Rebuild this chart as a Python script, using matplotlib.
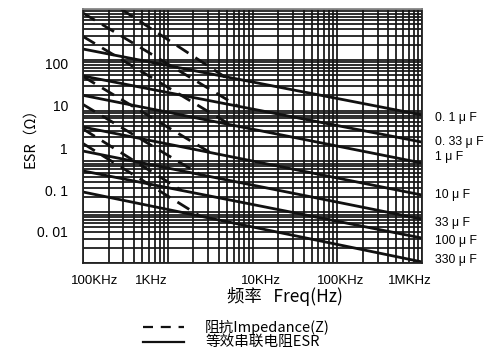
import matplotlib
matplotlib.use("Agg")
import matplotlib.pyplot as plt
from matplotlib.lines import Line2D
from matplotlib.transforms import offset_copy, blended_transform_factory

plt.rcParams['font.family'] = ['Noto Sans CJK SC', 'DejaVu Sans']

# ---- data ----
caps = ["0. 1 μ F", "0. 33 μ F", "1 μ F", "10 μ F", "33 μ F", "100 μ F", "330 μ F"]

# ESR lines: value at 100Hz and at 1MHz
esr_freq = [1e2, 1e6]
esr_01 = [163, 8.2]
esr_033 = [48, 2.4]
esr_1 = [20, 0.93]
esr_10 = [4.75, 0.218]
esr_33 = [1.6, 0.073]
esr_100 = [0.65, 0.031]
esr_330 = [0.25, 0.0105]

# impedance (dashed) lines: start and end points (freq, ohm)
z_freq_01 = [281, 4737]
z_01 = [1000, 45.8]
z_freq_033 = [100, 6745]
z_033 = [834, 12.2]
z_freq_1 = [100, 5427]
z_1 = [288, 5.3]
z_freq_10 = [100, 3152]
z_10 = [46.9, 1.50]
z_freq_33 = [100, 2402]
z_33 = [13.2, 0.552]
z_freq_100 = [100, 1432]
z_100 = [4.35, 0.273]
z_freq_330 = [100, 2402]
z_330 = [2.25, 0.084]

x_ticks = [1e2, 1e3, 1e4, 1e5, 1e6]
x_labels = ["100KHz", "1KHz", "10KHz", "100KHz", "1MKHz"]
y_ticks = [100, 10, 1, 0.1, 0.01]
y_labels = ["100", "10", "1", "0. 1", "0. 01"]

esr_all = [esr_01, esr_033, esr_1, esr_10, esr_33, esr_100, esr_330]
z_all = [(z_freq_01, z_01), (z_freq_033, z_033), (z_freq_1, z_1),
         (z_freq_10, z_10), (z_freq_33, z_33), (z_freq_100, z_100),
         (z_freq_330, z_330)]

# nudges (pixels) so the labels sit where the scan puts them
x_nudge = [12, -16, 8, 3, -12]
y_nudge = [-5, 4, 11, 20, 30]
cap_label_y = [118, 142, 157, 195, 223, 241, 260]

W, H = 489, 349
fig = plt.figure(figsize=(W / 100, H / 100), dpi=100)
ax = fig.add_axes([83 / W, 1 - 263 / H, 339 / W, 254 / H])
ax.set_xscale("log")
ax.set_yscale("log")
ax.set_xlim(1e2, 1e6)
ax.set_ylim(0.01, 1000)

ax.grid(which="both", color="#151515", lw=1.25)
ax.tick_params(which="both", length=0, labelbottom=False, labelleft=False)
for s in ax.spines.values():
    s.set_color("#222222")
    s.set_linewidth(1.3)
ax.spines["top"].set_color("#888888")

for vals in esr_all:
    ax.plot(esr_freq, vals, color="#111111", lw=2.0, solid_capstyle="butt")
for fr, vals in z_all:
    ax.plot(fr, vals, color="#111111", lw=2.0, dashes=(5, 3))

latin = ["Liberation Sans", "DejaVu Sans"]

# x tick labels
tx = blended_transform_factory(ax.transData, ax.transAxes)
for v, lab, dx in zip(x_ticks, x_labels, x_nudge):
    tr = offset_copy(tx, fig=fig, x=dx, y=-18, units="dots")
    ax.text(v, 0, lab, transform=tr, ha="center", va="center",
            fontsize=9.5, family=latin)

# y tick labels
ty = blended_transform_factory(ax.transAxes, ax.transData)
for v, lab, dy in zip(y_ticks, y_labels, y_nudge):
    tr = offset_copy(ty, fig=fig, x=-15, y=dy, units="dots")
    ax.text(0, v, lab, transform=tr, ha="right", va="center", fontsize=10,
            family=latin)

# capacitor labels on the right
for lab, py in zip(caps, cap_label_y):
    fig.text(435 / W, 1 - py / H, lab, ha="left", va="center",
             fontsize=8.8, family=latin)

fig.text(30 / W, 1 - 135 / H, "ESR（Ω）", rotation=90, ha="center",
         va="center", fontsize=10.5)
fig.text(285 / W, 1 - 297 / H, "频率   Freq(Hz)", ha="center", va="center",
         fontsize=12.5)

# legend
fig.add_artist(Line2D([143 / W, 184 / W], [1 - 327 / H] * 2, color="#111111",
                      lw=1.6, dashes=(4.5, 3.5), transform=fig.transFigure))
fig.add_artist(Line2D([143 / W, 184 / W], [1 - 342 / H] * 2, color="#111111",
                      lw=1.6, transform=fig.transFigure))
fig.text(205 / W, 1 - 327 / H, "阻抗Impedance(Z)", ha="left", va="center",
         fontsize=10.5)
fig.text(205 / W, 1 - 342 / H, "等效串联电阻ESR", ha="left", va="center",
         fontsize=10.5)

fig.savefig("out.png", dpi=100)
